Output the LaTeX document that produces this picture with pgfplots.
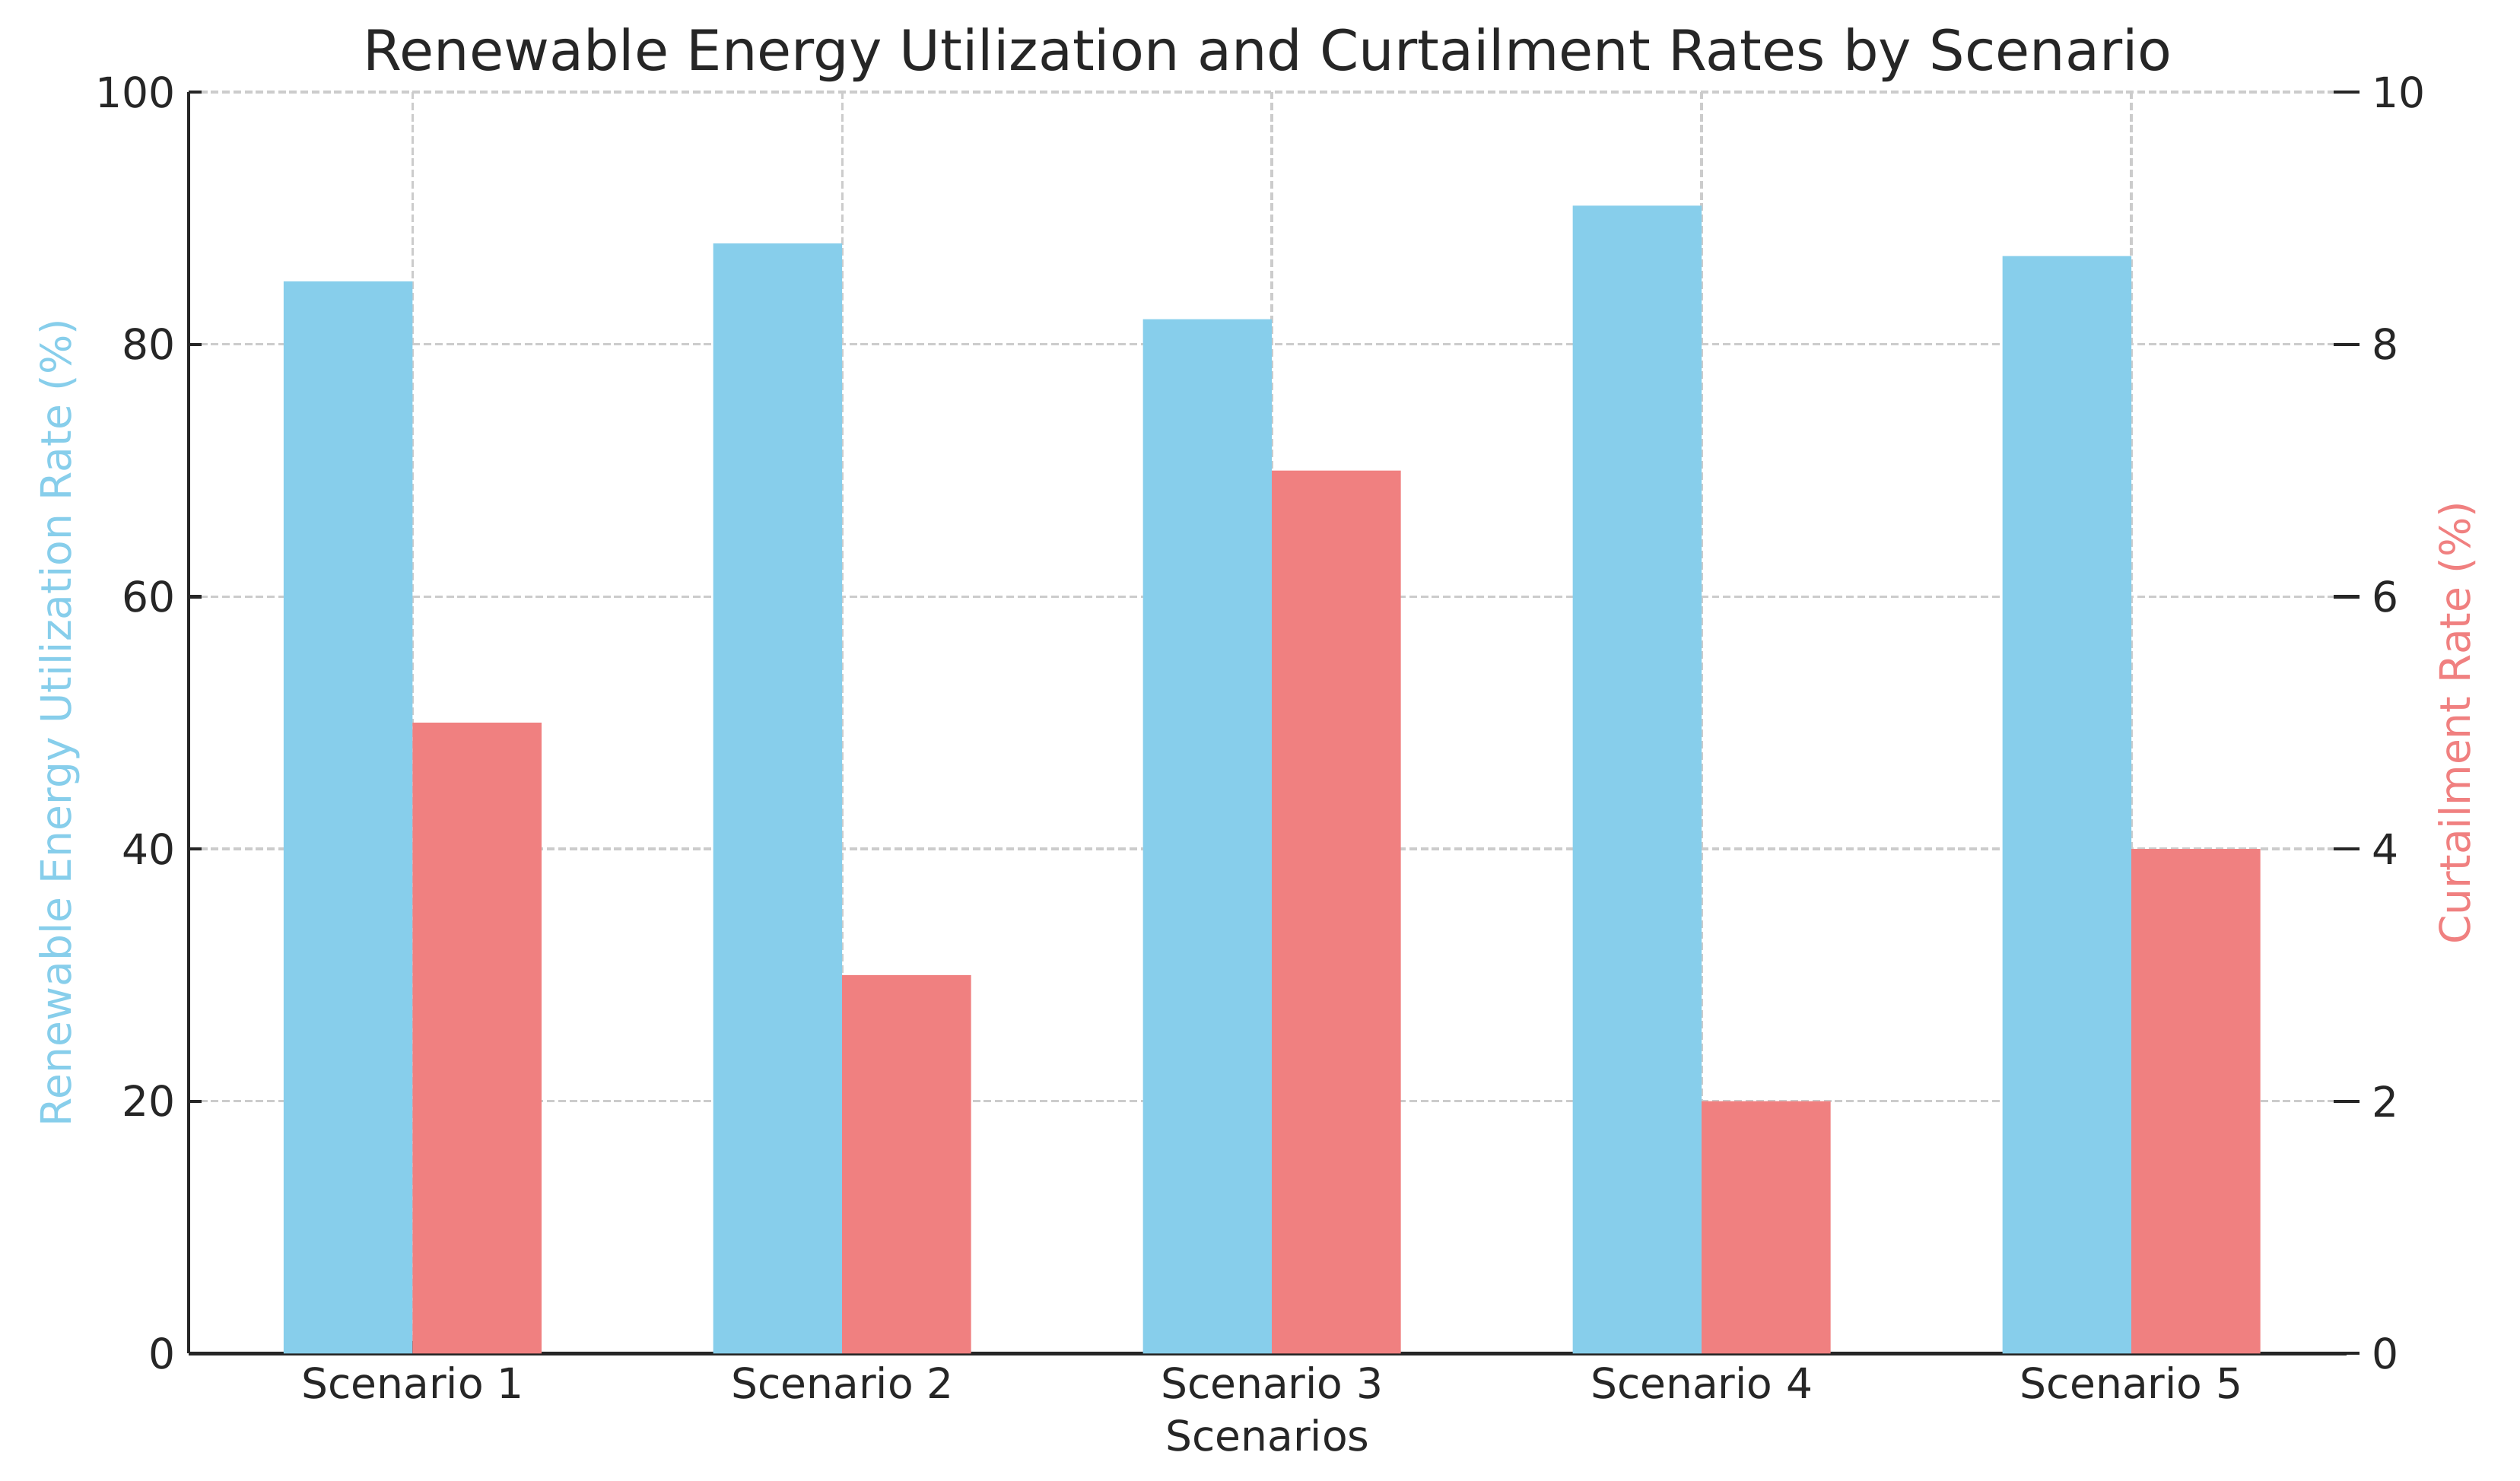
\documentclass[border=0pt]{standalone}
\usepackage{fontspec}
\setmainfont{DejaVu Sans}
\usepackage{pgfplots}
\pgfplotsset{compat=1.18}

\definecolor{skyblue}{HTML}{87CEEB}
\definecolor{lightcoral}{HTML}{F08080}
\definecolor{gridgray}{HTML}{CCCCCC}
\definecolor{ink}{HTML}{262626}

\begin{document}
\begin{tikzpicture}
  \useasboundingbox (-52.2pt,-35.2pt) rectangle (645.3pt,374.6pt);

  \pgfplotsset{
    twin/.style={
      scale only axis,
      width=597.3pt, height=349.1pt,
      at={(0,0)}, anchor=south west,
      xmin=-0.521, xmax=4.501,
      tick label style={font=\fontsize{11.6}{14}\selectfont, text=ink},
      /pgf/number format/assume math mode=true,
      major tick length=3.5pt,
      tick style={draw=ink, line width=0.9pt},
    }
  }

  % utilization (left axis)
  \begin{axis}[twin, name=ax,
      ymin=0, ymax=100,
      ytick={0,20,...,100},
      xtick={0,1,2,3,4},
      xticklabels={Scenario 1,Scenario 2,Scenario 3,Scenario 4,Scenario 5},
      axis x line*=bottom, axis y line*=left,
      axis line style={ink, line width=1pt, -},
      tick align=inside,
      grid=major,
      grid style={gridgray, line width=0.7pt, dash pattern=on 2.1pt off 1pt},
      xticklabel style={anchor=base, inner sep=0pt, yshift=-12.4pt},
      yticklabel style={anchor=east, inner sep=0pt, xshift=-3.4pt},
    ]
    \addplot[ybar, bar width=0.3, bar shift=-0.15, fill=skyblue, draw=none]
      coordinates {(0,85) (1,88) (2,82) (3,91) (4,87)};
  \end{axis}

  % curtailment (right axis): no spine, only outward ticks
  \begin{axis}[twin,
      ymin=0, ymax=10,
      ytick={0,2,...,10},
      axis x line=none, axis y line*=right,
      y axis line style={draw=none},
      clip=false,
      yticklabel style={anchor=west, inner sep=0pt, xshift=6.8pt},
    ]
    \addplot[ybar, bar width=0.3, bar shift=0.15, fill=lightcoral, draw=none]
      coordinates {(0,5) (1,3) (2,7) (3,2) (4,4)};
    \pgfplotsinvokeforeach{0,2,4,6,8,10}{
      \draw[ink, line width=0.9pt] (axis cs:4.501,#1) -- ([xshift=3.5pt]axis cs:4.501,#1);
    }
  \end{axis}

  \node[anchor=base, text=ink, font=\fontsize{15.45}{18}\selectfont]
    at ([yshift=6.1pt]ax.north)
    {Renewable Energy Utilization and Curtailment Rates by Scenario};
  \node[anchor=base, text=ink, font=\fontsize{11.6}{14}\selectfont]
    at ([yshift=-26.9pt]ax.south) {Scenarios};
  \node[anchor=base, rotate=90, text=skyblue, font=\fontsize{11.6}{14}\selectfont]
    at ([xshift=-32.6pt]ax.west) {Renewable Energy Utilization Rate (\%)};
  \node[anchor=base, rotate=90, text=lightcoral, font=\fontsize{11.6}{14}\selectfont]
    at ([xshift=34.3pt]ax.east) {Curtailment Rate (\%)};
\end{tikzpicture}
\end{document}
